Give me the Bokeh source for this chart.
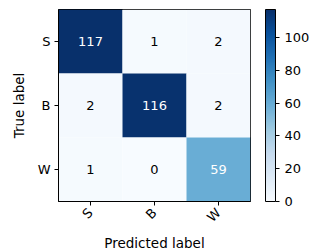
import math
from bokeh.plotting import figure
from bokeh.models import (LinearColorMapper, ColorBar, FixedTicker, ColumnDataSource)
from bokeh.palettes import Blues256
from bokeh.embed import file_html
from bokeh.resources import INLINE
from bokeh.core.properties import value

classes = ["S", "B", "W"]
matrix = [
    [117, 1, 2],
    [2, 116, 2],
    [1, 0, 59],
]
cbar_ticks = [0, 20, 40, 60, 80, 100]

FONT = "DejaVu Sans"

vmax = max(max(r) for r in matrix)
thresh = vmax / 2.0

xs, ys, vals, labels, tcolors = [], [], [], [], []
for i, row in enumerate(matrix):
    for j, v in enumerate(row):
        xs.append(j)
        ys.append(i)
        vals.append(v)
        labels.append(str(v))
        tcolors.append("white" if v > thresh else "black")

src = ColumnDataSource(dict(x=xs, y=ys, v=vals, t=labels, tc=tcolors))

mapper = LinearColorMapper(palette=list(Blues256[::-1]), low=0, high=vmax)

p = figure(frame_width=192, frame_height=192, x_range=(-0.5, 2.5), y_range=(2.5, -0.5),
           output_backend="svg", toolbar_location=None,
           min_border_left=58, min_border_top=9, min_border_right=62, min_border_bottom=45)

p.rect(x="x", y="y", width=1, height=1, source=src,
       fill_color={"field": "v", "transform": mapper}, line_color=None)
p.text(x="x", y="y", text="t", source=src, text_color="tc",
       text_align="center", text_baseline="middle",
       text_font=value(FONT), text_font_size="13px")

p.grid.visible = False
p.outline_line_color = "black"
p.outline_line_width = 1

ticker = FixedTicker(ticks=list(range(len(classes))))
for ax in (p.xaxis[0], p.yaxis[0]):
    ax.ticker = ticker
    ax.major_label_overrides = {i: c for i, c in enumerate(classes)}
    ax.minor_tick_line_color = None
    ax.major_tick_in = 0
    ax.major_tick_out = 4
    ax.major_tick_line_color = "black"
    ax.axis_line_color = "black"
    ax.major_label_text_font = FONT
    ax.major_label_text_font_size = "13px"
    ax.major_label_text_color = "black"
    ax.axis_label_text_font = FONT
    ax.axis_label_text_font_size = "13.5px"
    ax.axis_label_text_font_style = "normal"
    ax.axis_label_text_color = "black"
    ax.major_label_standoff = 4
    ax.axis_label_standoff = 8

p.xaxis.major_label_standoff = 5
p.xaxis.axis_label_standoff = 2
p.xaxis.axis_label = "Predicted label"
p.yaxis.axis_label = "True label"
p.xaxis.major_label_orientation = math.pi / 4

cb = ColorBar(color_mapper=mapper, ticker=FixedTicker(ticks=cbar_ticks),
              width=10, height=192, location=(15, 0), padding=0, margin=0,
              bar_line_color="black", major_tick_in=0, major_tick_out=4,
              major_tick_line_color="black", minor_tick_line_color=None,
              major_label_text_font=FONT, major_label_text_font_size="13px",
              major_label_text_color="black", label_standoff=5,
              border_line_color=None, background_fill_color=None)
p.add_layout(cb, "right")

open("out.html", "w").write(file_html(p, INLINE))
